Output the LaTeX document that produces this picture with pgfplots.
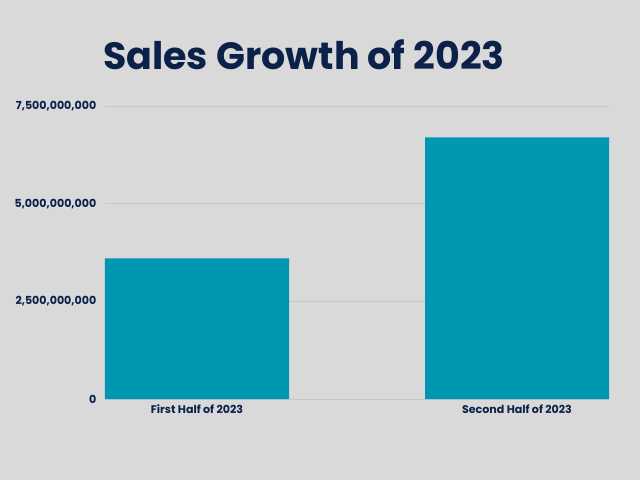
\documentclass[border=0pt]{standalone}
\usepackage{fontspec}
\setmainfont{Poppins}
\usepackage{pgfplots}
\pgfplotsset{compat=1.18}
\definecolor{bg}{HTML}{D9D9D9}
\definecolor{navy}{HTML}{0B2149}
\definecolor{tealbar}{HTML}{0097B2}
\begin{document}
\begin{tikzpicture}
\fill[bg] (0,0) rectangle (480pt,360pt);
\node[font=\bfseries\fontsize{28.5}{31}\selectfont, text=navy] at (228pt,318.75pt) {Sales Growth of 2023};
\begin{axis}[
  at={(78.75pt,60.75pt)}, anchor=south west,
  width=378pt, height=219.75pt, scale only axis,
  ymin=0, ymax=7.5e9, xmin=-0.2875, xmax=1.2875,
  axis line style={draw=none},
  major tick length=0pt,
  xtick=data,
  xticklabels={First Half of 2023, Second Half of 2023},
  ytick={0,2.5e9,5e9,7.5e9},
  yticklabels={0,{2,500,000,000},{5,000,000,000},{7,500,000,000}},
  scaled y ticks=false,
  ymajorgrids, grid style={draw=black!22, line width=0.6pt},
  tick label style={font=\bfseries\fontsize{8.3}{10}\selectfont, text=navy},
  yticklabel style={anchor=east, xshift=-3pt},
  xticklabel style={anchor=north, yshift=-1pt},
]
\addplot[ybar, fill=tealbar, draw=none, bar width=0.575] coordinates {(0,3.6e9) (1,6.7e9)};
\end{axis}
\end{tikzpicture}
\end{document}
